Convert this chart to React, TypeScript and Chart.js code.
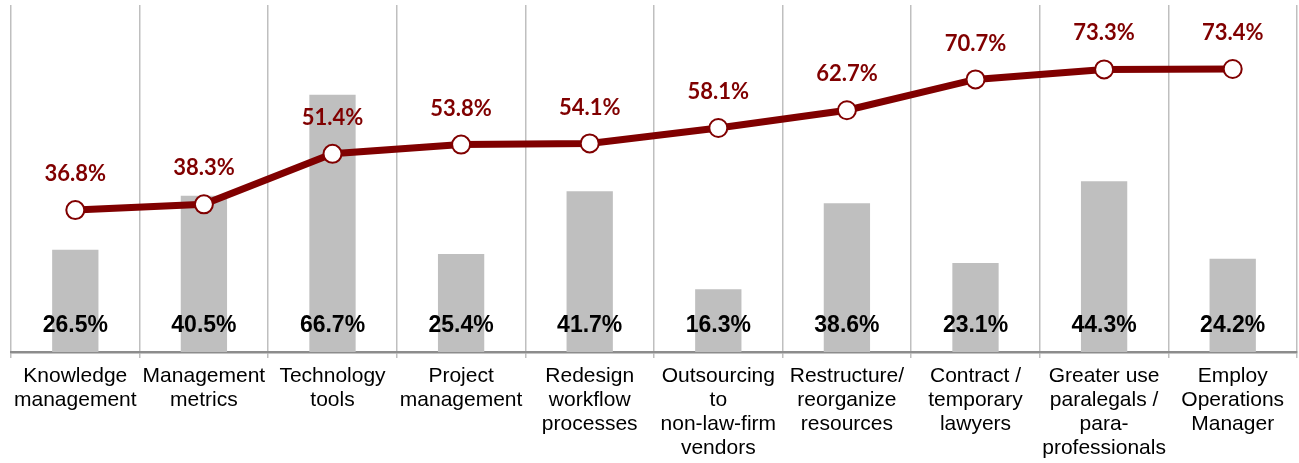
import React, { useEffect, useRef } from "react";
import { Chart, registerables } from "chart.js";

Chart.register(...registerables);

const categories: string[][] = [
  ["Knowledge", "management"],
  ["Management", "metrics"],
  ["Technology", "tools"],
  ["Project", "management"],
  ["Redesign", "workflow", "processes"],
  ["Outsourcing", "to", "non-law-firm", "vendors"],
  ["Restructure/", "reorganize", "resources"],
  ["Contract /", "temporary", "lawyers"],
  ["Greater use", "paralegals /", "para-", "professionals"],
  ["Employ", "Operations", "Manager"],
];
const barValues = [26.5, 40.5, 66.7, 25.4, 41.7, 16.3, 38.6, 23.1, 44.3, 24.2];
const lineValues = [36.8, 38.3, 51.4, 53.8, 54.1, 58.1, 62.7, 70.7, 73.3, 73.4];

const RED = "#800000";
const GREY = "#BFBFBF";

const labelPlugin = {
  id: "valueLabels",
  afterDatasetsDraw(chart: any) {
    const ctx = chart.ctx;
    const y = chart.scales.y;
    ctx.save();
    ctx.textAlign = "center";
    ctx.textBaseline = "middle";
    const barMeta = chart.getDatasetMeta(1);
    ctx.font = "bold 23px 'Liberation Sans', Arial, sans-serif";
    ctx.fillStyle = "#000000";
    barMeta.data.forEach((el: any, i: number) => {
      ctx.fillText(barValues[i].toFixed(1) + "%", el.x, y.getPixelForValue(0) - 26);
    });
    const lineMeta = chart.getDatasetMeta(0);
    ctx.font = "bold 22px Lato, 'Open Sans', sans-serif";
    ctx.fillStyle = RED;
    lineMeta.data.forEach((el: any, i: number) => {
      ctx.fillText(lineValues[i].toFixed(1) + "%", el.x, el.y - 36);
    });
    ctx.restore();
  },
};

export default function App() {
  const ref = useRef<HTMLCanvasElement | null>(null);
  useEffect(() => {
    if (!ref.current) return;
    const chart = new Chart(ref.current, {
      type: "bar",
      data: {
        labels: categories as any,
        datasets: [
          {
            type: "line",
            data: lineValues,
            borderColor: RED,
            borderWidth: 7,
            pointRadius: 9,
            pointBackgroundColor: "#ffffff",
            pointBorderColor: RED,
            pointBorderWidth: 2,
            tension: 0,
            order: 0,
          } as any,
          {
            type: "bar",
            data: barValues,
            backgroundColor: GREY,
            barPercentage: 0.36,
            categoryPercentage: 1,
            order: 1,
          },
        ],
      },
      options: {
        responsive: false,
        animation: false,
        layout: { autoPadding: false, padding: { top: 5, left: 11, right: 2, bottom: 0 } },
        plugins: { legend: { display: false }, tooltip: { enabled: false } },
        scales: {
          x: {
            offset: true,
            grid: {
              offset: true,
              color: "#BFBFBF",
              lineWidth: 1.5,
              drawOnChartArea: true,
              drawTicks: true,
              tickLength: 6,
            },
            border: { color: "#8C8C8C", width: 2.5 },
            ticks: {
              color: "#000000",
              font: { family: "'Liberation Sans', Arial, sans-serif", size: 21, lineHeight: 1.15 },
              padding: 6,
              maxRotation: 0,
              autoSkip: false,
            },
            afterFit: (scale: any) => {
              scale.height = 111;
            },
          },
          y: {
            display: false,
            min: 0,
            max: 90,
          },
        },
      },
      plugins: [labelPlugin],
    });
    return () => chart.destroy();
  }, []);
  return (
    <div style={{ position: "fixed", left: 0, top: 0, width: 1299, height: 463, background: "#fff" }}>
      <canvas ref={ref} width={1299} height={463} style={{ display: "block" }} />
    </div>
  );
}
